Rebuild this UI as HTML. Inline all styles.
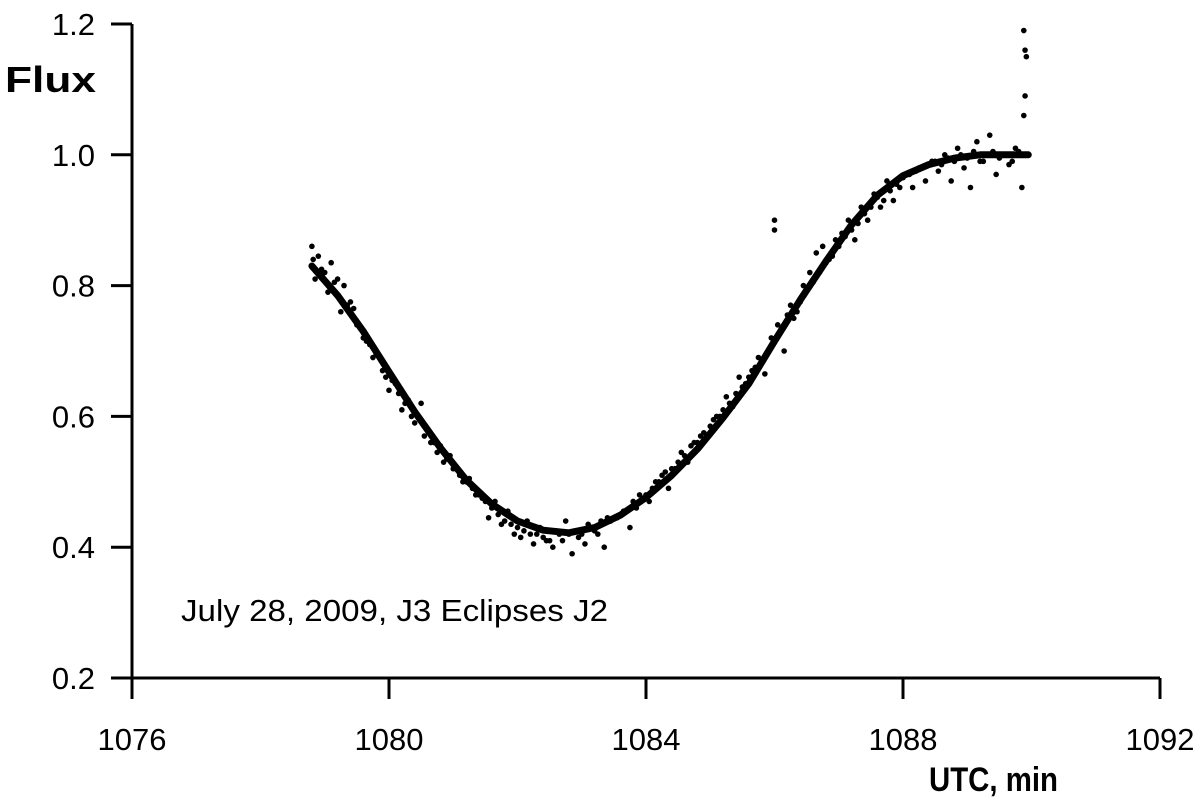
<!DOCTYPE html>
<html><head><meta charset="utf-8">
<style>
html,body{margin:0;padding:0;background:#fff;}
svg{display:block;}
text{font-family:"Liberation Sans",Arial,sans-serif;fill:#000;}
</style></head>
<body>
<svg id="chart" width="1200" height="800" viewBox="0 0 1200 800" xmlns="http://www.w3.org/2000/svg">
<g id="axes"></g>
<g id="scatter"></g>
<g id="fit"></g>
<text x="5" y="92" style="font-size:36px;font-weight:bold" textLength="91" lengthAdjust="spacingAndGlyphs">Flux</text>
<text x="929" y="791" style="font-size:34px;font-weight:bold" textLength="129" lengthAdjust="spacingAndGlyphs">UTC, min</text>
<text x="181" y="621" style="font-size:31px" textLength="427" lengthAdjust="spacingAndGlyphs">July 28, 2009, J3 Eclipses J2</text>
</svg>
<script>
const xTicks = [1076, 1080, 1084, 1088, 1092];
const yTicks = [0.2, 0.4, 0.6, 0.8, 1.0, 1.2];
const yTickLabels = ["0.2", "0.4", "0.6", "0.8", "1.0", "1.2"];
const fitX = [1078.8,1079.2,1079.6,1080.0,1080.4,1080.8,1081.2,1081.6,1082.0,1082.4,1082.8,1083.2,1083.6,1084.0,1084.4,1084.8,1085.2,1085.6,1086.0,1086.4,1086.8,1087.2,1087.6,1088.0,1088.4,1088.8,1089.2,1089.6,1089.95];
const fitY = [0.83,0.785,0.73,0.668,0.607,0.552,0.503,0.466,0.44,0.426,0.422,0.43,0.449,0.476,0.51,0.55,0.598,0.65,0.715,0.778,0.837,0.893,0.938,0.968,0.985,0.995,1.0,1.0,1.0];
const scatterX = [1078.8,1078.85,1078.9,1079.0,1079.05,1079.1,1079.2,1079.25,1079.3,1079.4,1079.5,1079.6,1079.7,1079.75,1079.85,1079.95,1080.0,1080.1,1080.2,1080.3,1080.4,1080.5,1080.55,1080.65,1080.75,1080.85,1080.95,1081.05,1081.15,1081.25,1081.35,1081.45,1081.55,1081.65,1081.75,1081.85,1081.95,1082.05,1082.15,1082.25,1082.35,1082.45,1082.55,1082.65,1082.75,1082.85,1082.95,1083.05,1083.15,1083.25,1083.35,1083.45,1083.55,1083.65,1083.75,1083.85,1083.95,1084.05,1084.15,1084.25,1084.35,1084.45,1084.55,1084.65,1084.75,1084.85,1084.95,1085.05,1085.15,1085.25,1085.35,1085.45,1085.55,1085.65,1085.75,1085.85,1085.95,1086.0,1086.0,1086.05,1086.15,1086.2,1086.25,1086.35,1086.45,1086.55,1086.65,1086.75,1086.85,1086.95,1087.05,1087.15,1087.25,1087.35,1087.45,1087.55,1087.65,1087.75,1087.85,1087.95,1088.05,1088.15,1088.25,1088.35,1088.45,1088.55,1088.65,1088.75,1088.85,1088.95,1089.05,1089.15,1089.25,1089.35,1089.45,1089.55,1089.65,1089.75,1089.85,1089.88,1089.9,1089.92,1089.9,1089.88,
1078.82,1078.95,1079.08,1079.15,1079.35,1079.45,1079.55,1079.65,1079.8,1079.9,1080.05,1080.15,1080.25,1080.35,1080.45,1080.6,1080.7,1080.8,1080.9,1081.0,1081.1,1081.2,1081.3,1081.4,1081.5,1081.6,1081.7,1081.8,1081.9,1082.0,1082.1,1082.2,1082.3,1082.4,1082.5,1082.6,1082.7,1082.8,1082.9,1083.0,1083.1,1083.2,1083.3,1083.4,1083.5,1083.6,1083.7,1083.8,1083.9,1084.0,1084.1,1084.2,1084.3,1084.4,1084.5,1084.6,1084.7,1084.8,1084.9,1085.0,1085.1,1085.2,1085.3,1085.4,1085.5,1085.6,1085.7,1085.8,1085.9,1086.1,1086.3,1086.4,1086.5,1086.6,1086.7,1086.8,1086.9,1087.0,1087.1,1087.2,1087.3,1087.4,1087.5,1087.6,1087.7,1087.8,1087.9,1088.0,1088.1,1088.2,1088.3,1088.4,1088.5,1088.6,1088.7,1088.8,1088.9,1089.0,1089.1,1089.2,1089.3,1089.4,1089.5,1089.6,1089.7,1089.8];
const scatterY = [0.86,0.81,0.845,0.82,0.79,0.835,0.81,0.76,0.8,0.775,0.74,0.72,0.71,0.69,0.69,0.66,0.64,0.65,0.61,0.625,0.59,0.62,0.57,0.56,0.545,0.53,0.54,0.52,0.5,0.505,0.48,0.475,0.445,0.47,0.435,0.455,0.42,0.415,0.44,0.405,0.43,0.41,0.40,0.42,0.44,0.39,0.415,0.405,0.43,0.42,0.40,0.44,0.445,0.455,0.43,0.46,0.475,0.47,0.5,0.51,0.49,0.52,0.545,0.53,0.56,0.57,0.57,0.595,0.6,0.63,0.615,0.66,0.65,0.67,0.69,0.665,0.72,0.9,0.885,0.74,0.7,0.755,0.77,0.76,0.8,0.82,0.85,0.86,0.84,0.87,0.88,0.9,0.87,0.92,0.9,0.94,0.92,0.96,0.93,0.95,0.97,0.95,0.98,0.96,0.99,0.975,1.0,0.96,1.01,0.98,0.95,1.02,0.99,1.03,0.97,1.0,0.985,1.01,0.95,1.19,1.16,1.15,1.09,1.06,
0.84,0.825,0.8,0.805,0.77,0.765,0.735,0.715,0.695,0.67,0.655,0.635,0.62,0.6,0.6,0.58,0.56,0.555,0.535,0.52,0.51,0.5,0.49,0.48,0.47,0.46,0.45,0.44,0.435,0.43,0.425,0.42,0.42,0.415,0.41,0.425,0.41,0.42,0.425,0.42,0.435,0.425,0.44,0.445,0.445,0.45,0.455,0.47,0.48,0.48,0.49,0.5,0.515,0.52,0.53,0.54,0.555,0.56,0.575,0.585,0.6,0.61,0.62,0.635,0.645,0.66,0.675,0.685,0.7,0.73,0.75,0.775,0.795,0.805,0.82,0.835,0.845,0.86,0.875,0.885,0.895,0.91,0.92,0.935,0.93,0.945,0.955,0.965,0.97,0.975,0.98,0.985,0.99,0.985,0.995,0.99,1.0,0.995,1.005,0.99,1.0,1.005,0.995,1.0,0.99,1.005];

const NS = "http://www.w3.org/2000/svg";
const x0 = 132, x1 = 1160, yTop = 24, yBot = 678;
function sx(v){ return x0 + (v - 1076) / 16 * (x1 - x0); }
function sy(v){ return yBot - (v - 0.2) / 1.0 * (yBot - yTop); }
function mk(tag, attrs, parent){ const e = document.createElementNS(NS, tag); for (const k in attrs) e.setAttribute(k, attrs[k]); parent.appendChild(e); return e; }

const axes = document.getElementById('axes');
let a = mk('line', {x1:x0, y1:yTop, x2:x0, y2:yBot, stroke:'#000', 'stroke-width':3}, axes);


a = mk('line', {x1:x0-1.5, y1:yBot, x2:x1, y2:yBot, stroke:'#000', 'stroke-width':3}, axes);


xTicks.forEach(t => {
  const l = mk('line', {x1:sx(t), y1:yBot, x2:sx(t), y2:yBot+21, stroke:'#000', 'stroke-width':3}, axes);
  
  
  const tx = mk('text', {x:sx(t), y:750, 'text-anchor':'middle', style:'font-size:31px'}, axes);
  tx.textContent = String(t);
  
  
});
yTicks.forEach((t, i) => {
  const l = mk('line', {x1:x0-21, y1:sy(t), x2:x0, y2:sy(t), stroke:'#000', 'stroke-width':3}, axes);
  
  
  const tx = mk('text', {x:95, y:sy(t)+11, 'text-anchor':'end', style:'font-size:31px'}, axes);
  tx.textContent = yTickLabels[i];
  
  
});

const sc = document.getElementById('scatter');
scatterX.forEach((v, i) => {
  const c = mk('circle', {cx:sx(v), cy:sy(scatterY[i]), r:2.8, fill:'#000'}, sc);
  
  
});

const fit = document.getElementById('fit');
const d = fitX.map((v, i) => (i ? 'L' : 'M') + sx(v).toFixed(1) + ' ' + sy(fitY[i]).toFixed(1)).join(' ');
const p = mk('path', {d:d, fill:'none', stroke:'#000', 'stroke-width':7, 'stroke-linejoin':'round', 'stroke-linecap':'round'}, fit);


</script>
</body></html>
